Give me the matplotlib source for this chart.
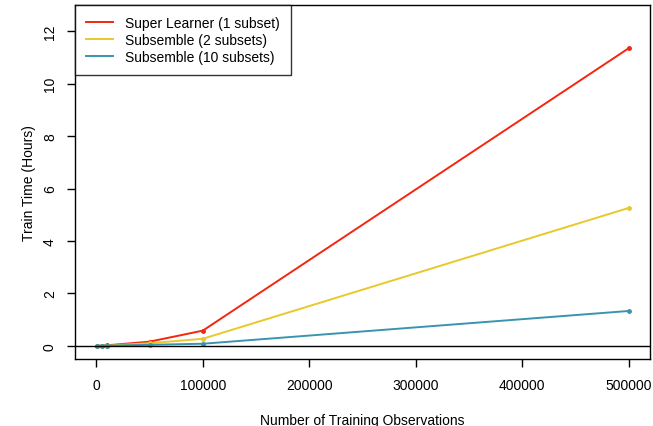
import numpy as np
import matplotlib
matplotlib.use("Agg")
from matplotlib import pyplot as plt

plt.rcParams['font.family'] = ['Liberation Sans', 'DejaVu Sans']

# training set sizes and train times (hours)
n_obs = [1000, 5000, 10000, 50000, 100000, 500000]
super_learner = [0.0, 0.01, 0.02, 0.16, 0.58, 11.35]
subsemble_2 = [0.0, 0.005, 0.01, 0.10, 0.27, 5.26]
subsemble_10 = [0.0, 0.003, 0.006, 0.04, 0.08, 1.33]

series_names = ["Super Learner (1 subset)", "Subsemble (2 subsets)", "Subsemble (10 subsets)"]
series_colors = ["#f5260f", "#e8c82a", "#3a94b0"]
x_ticks = [0, 100000, 200000, 300000, 400000, 500000]
y_ticks = [0, 2, 4, 6, 8, 10, 12]

fig = plt.figure(figsize=(6.53, 4.27), dpi=100)
ax = fig.add_axes([0.1149, 0.157, 0.8805, 0.829])

for vals, name, col in zip([super_learner, subsemble_2, subsemble_10], series_names, series_colors):
    ax.plot(n_obs, vals, color=col, lw=1.4, label=name, marker='o', ms=2.5, mec=col)

ax.axhline(0, color='black', lw=1)

ax.set_xlim(-20000, 520000)
ax.set_ylim(-0.5, 13)
ax.set_xticks(x_ticks)
ax.set_xticklabels([str(v) for v in x_ticks])
ax.set_yticks(y_ticks)
ax.set_yticklabels([str(v) for v in y_ticks], rotation=90, va='center')
ax.tick_params(direction='out', length=6, width=1, labelsize=10)
ax.tick_params(axis='y', pad=7)
ax.tick_params(axis='x', pad=8)
for s in ax.spines.values():
    s.set_linewidth(1)

ax.set_xlabel("Number of Training Observations", fontsize=10, labelpad=14.5)
ax.set_ylabel("Train Time (Hours)", fontsize=10, labelpad=5)

leg = ax.legend(loc='upper left', fontsize=10, frameon=True, fancybox=False,
                edgecolor='black', borderaxespad=0, handlelength=1.95,
                borderpad=0.8, labelspacing=0.22, handletextpad=0.85)
leg.get_frame().set_linewidth(1)
for h in leg.get_lines():
    h.set_marker('')

fig.savefig("out.png", dpi=100)
